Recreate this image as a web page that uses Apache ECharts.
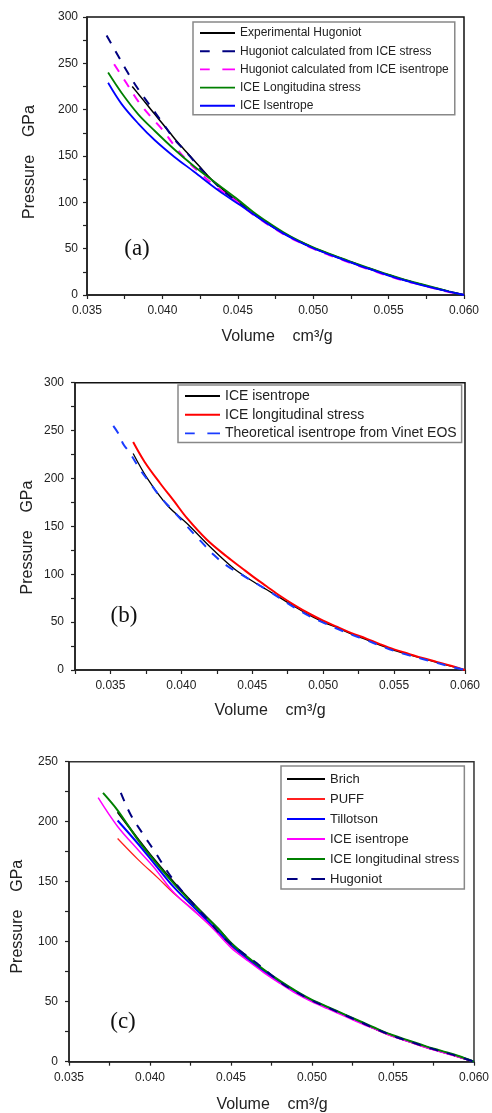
<!DOCTYPE html>
<html><head><meta charset="utf-8">
<script src="https://cdn.jsdelivr.net/npm/echarts@6/dist/echarts.min.js"></script>
<style>html,body{margin:0;padding:0;background:#fff;width:492px;height:1113px;overflow:hidden}
.p{position:absolute;left:0;width:492px}</style></head><body>
<div id="a" class="p" style="top:0;height:350px"></div>
<div id="b" class="p" style="top:350px;height:380px"></div>
<div id="c" class="p" style="top:730px;height:383px"></div>
<script>
// ---- Panel (a) data [volume cm3/g, pressure GPa]
const aExpHugoniot = [[0.0380,225],[0.0385,215],[0.0390,205],[0.0395,195],[0.0400,185],[0.0405,175],[0.0410,165],[0.0415,156],[0.0420,147],[0.0425,138],[0.0430,129],[0.0435,121],[0.0440,114],[0.0445,107],[0.0450,101],[0.0460,88],[0.0470,77],[0.0480,67],[0.0490,58.5],[0.0500,51],[0.0510,44.5],[0.0520,38.5],[0.0530,32.5],[0.0540,27],[0.0550,21.5],[0.0560,16.5],[0.0570,12],[0.0580,7.8],[0.0590,3.8],[0.0600,0]];
const aHugStress = [[0.0363,280],[0.0371,257],[0.0377,240],[0.0384,222],[0.0392,204],[0.0400,186],[0.0408,168],[0.0417,152],[0.0426,135],[0.0431,127],[0.0442,110],[0.0452,98],[0.0460,88],[0.0470,77],[0.0480,67],[0.0490,58.5],[0.0500,51],[0.0510,44.5],[0.0520,38.5],[0.0530,32.5],[0.0540,27],[0.0550,21.5],[0.0560,16.5],[0.0570,12],[0.0580,7.8],[0.0590,3.8],[0.0600,0]];
const aHugIsentrope = [[0.0368,249],[0.0376,229],[0.0384,209],[0.0392,193],[0.0400,178.5],[0.0408,161],[0.0417,144],[0.0426,130],[0.0435,117.5],[0.0445,106],[0.0450,100],[0.0460,87],[0.0470,76],[0.0480,66],[0.0490,57.5],[0.0500,50],[0.0510,43.5],[0.0520,37.5],[0.0530,31.5],[0.0540,26],[0.0550,20.5],[0.0560,15.5],[0.0570,11.5],[0.0580,7.2],[0.0590,3.3],[0.0600,0]];
const aIceLong = [[0.0364,240],[0.0373,218],[0.0384,195],[0.0395,177],[0.0408,157],[0.0421,139],[0.0437,119],[0.0450,103],[0.0460,90],[0.0470,78.5],[0.0480,68],[0.0490,59],[0.0500,51.5],[0.0510,45],[0.0520,39],[0.0530,33],[0.0540,27.5],[0.0550,22],[0.0560,17],[0.0570,12.5],[0.0580,8.2],[0.0590,4],[0.0600,0]];
const aIceIsen = [[0.0364,229],[0.0373,206],[0.0384,185],[0.0395,167],[0.0408,149],[0.0421,133],[0.0437,113],[0.0452,96.5],[0.0460,87.5],[0.0470,76.5],[0.0480,66.5],[0.0490,58],[0.0500,50.5],[0.0510,44],[0.0520,38],[0.0530,32],[0.0540,26.5],[0.0550,21],[0.0560,16],[0.0570,11.5],[0.0580,7.5],[0.0590,3.6],[0.0600,0]];

// ---- Panel (b) data
const bIceIsen = [[0.0366,226],[0.0376,200],[0.0390,172],[0.0404,153],[0.0420,129],[0.0437,106],[0.0450,93],[0.0460,84],[0.0470,75],[0.0480,66],[0.0490,57.5],[0.0500,50],[0.0510,44],[0.0520,37.5],[0.0530,32],[0.0540,26],[0.0550,20.5],[0.0560,16],[0.0570,12],[0.0580,8],[0.0590,4],[0.0600,0]];
const bIceLong = [[0.0366,238],[0.0374,217.5],[0.0385,195],[0.0395,176],[0.0404,158.5],[0.0418,136],[0.0432,118.5],[0.0443,106],[0.0451,97],[0.0460,87.5],[0.0470,77],[0.0480,67.5],[0.0490,59],[0.0500,51.5],[0.0510,45],[0.0520,38.5],[0.0530,33],[0.0540,27],[0.0550,21.5],[0.0560,17],[0.0570,12.5],[0.0580,8.5],[0.0590,4.5],[0.0600,0]];
const bVinet = [[0.0352,255],[0.0356,246],[0.0359,236],[0.0364,226],[0.0371,209],[0.0378,195],[0.0385,181],[0.0395,165],[0.0404,150],[0.0414,134],[0.0423,120],[0.0432,109],[0.0442,100],[0.0452,91],[0.0460,84],[0.0470,74.5],[0.0480,65],[0.0490,56.5],[0.0500,49.5],[0.0510,43],[0.0520,37],[0.0530,31.5],[0.0540,25.5],[0.0550,20],[0.0560,15.5],[0.0570,11.5],[0.0580,7.5],[0.0590,3.5],[0.0600,0]];

// ---- Panel (c) data
const cBrich = [[0.0380,208],[0.0393,185],[0.0403,168],[0.0415,149],[0.0428,130],[0.0442,111],[0.0450,99],[0.0460,87],[0.0470,76.5],[0.0480,67],[0.0490,58.5],[0.0500,51],[0.0510,45],[0.0520,39],[0.0530,33],[0.0540,27],[0.0550,21.5],[0.0560,17],[0.0570,12.5],[0.0580,8.5],[0.0590,4.5],[0.0600,0]];
const cPuff = [[0.0380,186],[0.0393,168],[0.0405,153],[0.0415,140],[0.0428,125],[0.0442,107],[0.0450,96.5],[0.0460,85.5],[0.0470,75],[0.0480,66],[0.0490,57.5],[0.0500,50.5],[0.0510,44.5],[0.0520,38.5],[0.0530,32.5],[0.0540,26.5],[0.0550,21],[0.0560,16.5],[0.0570,12],[0.0580,8],[0.0590,4],[0.0600,0]];
const cTillotson = [[0.0380,201],[0.0393,181],[0.0403,164.5],[0.0415,145],[0.0428,127.5],[0.0442,108.5],[0.0450,97.5],[0.0460,86],[0.0470,76],[0.0480,66.5],[0.0490,58],[0.0500,51],[0.0510,45],[0.0520,39],[0.0530,33],[0.0540,27],[0.0550,21.5],[0.0560,17],[0.0570,12.5],[0.0580,8.5],[0.0590,4.5],[0.0600,0]];
const cIceIsen = [[0.0368,220],[0.0380,196],[0.0393,176],[0.0403,161],[0.0415,140.5],[0.0436,115],[0.0450,95],[0.0460,84.5],[0.0470,74.5],[0.0480,65.5],[0.0490,57],[0.0500,50],[0.0510,44],[0.0520,38],[0.0530,32],[0.0540,26.5],[0.0550,21],[0.0560,16.5],[0.0570,12],[0.0580,8],[0.0590,4],[0.0600,0]];
const cIceLong = [[0.0371,224],[0.0380,209.5],[0.0393,184],[0.0403,167],[0.0415,148],[0.0428,129.5],[0.0442,111],[0.0450,99],[0.0460,87.5],[0.0470,77],[0.0480,67.5],[0.0490,59],[0.0500,51.5],[0.0510,45.5],[0.0520,39.5],[0.0530,33.5],[0.0540,27.5],[0.0550,22],[0.0560,17.5],[0.0570,13],[0.0580,9],[0.0590,5],[0.0600,0]];
const cHugoniot = [[0.0382,224],[0.0388,206],[0.0396,189],[0.0403,175],[0.0410,160],[0.0418,145],[0.0427,131],[0.0436,118],[0.0445,104],[0.0456,92],[0.0466,82],[0.0475,72],[0.0484,63],[0.0500,51],[0.0510,45],[0.0520,39],[0.0530,33],[0.0540,27],[0.0550,21.5],[0.0560,17],[0.0570,12.5],[0.0580,8.5],[0.0590,4.5],[0.0600,0]];

const SANS = 'Liberation Sans, Arial, sans-serif';
const SERIF = 'Liberation Serif, Times New Roman, serif';
const AX = '#222';
const ICON_SOLID = 'path://M0,0H36V2H0Z';
const ICON_DASH = 'path://M0,0H10V2H0Z M23,0H36V2H23Z';

function xAxisCfg(min) {
  return {
    type: 'value', min: min, max: 0.060, interval: 0.0025,
    axisLine: { lineStyle: { color: AX, width: 1.5 } },
    axisTick: { show: true, length: 4, inside: false, lineStyle: { color: AX, width: 1.2 } },
    axisLabel: { margin: 10, fontSize: 12, color: AX, fontFamily: SANS,
      formatter: function (v) { const k = Math.round(v / 0.0025); return k % 2 === 0 ? (k * 0.0025).toFixed(3) : ''; } },
    splitLine: { show: false }
  };
}
function yAxisCfg(max, margin) {
  return {
    type: 'value', min: 0, max: max, interval: 50,
    axisLine: { show: true, lineStyle: { color: AX, width: 1.5 } },
    axisTick: { show: true, length: 4, inside: false, lineStyle: { color: AX, width: 1.2 } },
    minorTick: { show: true, splitNumber: 2, length: 4, lineStyle: { color: AX, width: 1.2 } },
    axisLabel: { margin: margin, fontSize: 12, color: AX, fontFamily: SANS },
    splitLine: { show: false }
  };
}
function line(name, data, color, width, dash) {
  return { type: 'line', name: name, data: data, symbol: 'none', showSymbol: false,
    smooth: 0.35,
    lineStyle: { color: color, width: width, type: dash ? [9, 9] : 'solid' },
    itemStyle: { color: color }, animation: false, z: 3 };
}
function legendData(series) {
  return series.map(function (s) { return { name: s.name, icon: s.lineStyle.type === 'solid' ? ICON_SOLID : ICON_DASH }; });
}
function texts(yn, xn, tag) {
  return [
    { type: 'text', x: yn[0], y: yn[1], rotation: Math.PI / 2,
      style: { text: 'Pressure    GPa', fontSize: 16, fill: AX, fontFamily: SANS, align: 'center', verticalAlign: 'middle' } },
    { type: 'text', x: xn[0], y: xn[1],
      style: { text: 'Volume    cm\u00B3/g', fontSize: 16, fill: AX, fontFamily: SANS, align: 'center', verticalAlign: 'middle' } },
    { type: 'text', x: tag[0], y: tag[1],
      style: { text: tag[2], fontSize: 23, fill: '#111', fontFamily: SERIF, align: 'center', verticalAlign: 'middle' } }
  ];
}
function legendCfg(series, left, top, fs, gap, iw, pad) {
  return { data: legendData(series), orient: 'vertical', left: left, top: top, itemWidth: iw, itemHeight: 14, itemGap: gap,
    padding: pad, borderColor: '#888', borderWidth: 1.5, backgroundColor: '#fff', borderRadius: 0,
    selectedMode: false, symbolKeepAspect: true,
    textStyle: { fontSize: fs, color: AX, fontFamily: SANS, lineHeight: 14 } };
}

// Panel (a)
const sa = [
  line('Experimental Hugoniot', aExpHugoniot, '#000000', 1.5, false),
  line('Hugoniot calculated from ICE stress', aHugStress, '#000080', 2, true),
  line('Hugoniot calculated from ICE isentrope', aHugIsentrope, '#ff00ff', 2, true),
  line('ICE Longitudina stress', aIceLong, '#008000', 1.8, false),
  line('ICE Isentrope', aIceIsen, '#0000ff', 1.8, false)
];
echarts.init(document.getElementById('a')).setOption({
  animation: false,
  grid: { left: 87, top: 17, width: 377, height: 278, show: true, borderColor: '#111', borderWidth: 1.5, backgroundColor: 'transparent' },
  xAxis: xAxisCfg(0.035), yAxis: yAxisCfg(300, 9),
  legend: legendCfg(sa, 193, 22, 12, 4.2, 35, [4, 6, 2, 7]),
  series: sa,
  graphic: texts([30, 162], [277, 337], [137, 249, '(a)'])
});

// Panel (b)
const sb = [
  line('ICE isentrope', bIceIsen, '#000000', 1.3, false),
  line('ICE longitudinal stress', bIceLong, '#ff0000', 2, false),
  line('Theoretical isentrope from Vinet EOS', bVinet, '#1a3cff', 2, true)
];
echarts.init(document.getElementById('b')).setOption({
  animation: false,
  grid: { left: 75, top: 32.7, width: 390, height: 287.3, show: true, borderColor: '#111', borderWidth: 1.5, backgroundColor: 'transparent' },
  xAxis: xAxisCfg(0.0325), yAxis: yAxisCfg(300, 11),
  legend: legendCfg(sb, 178, 35, 14, 4.7, 35, [4, 5, 2, 7]),
  series: sb,
  graphic: texts([28, 187.5], [270, 361], [124, 266, '(b)'])
});

// Panel (c)
const sc = [
  line('Brich', cBrich, '#000000', 1.8, false),
  line('PUFF', cPuff, '#ff2020', 1.3, false),
  line('Tillotson', cTillotson, '#0000ff', 2, false),
  line('ICE isentrope', cIceIsen, '#ff00ff', 1.5, false),
  line('ICE longitudinal stress', cIceLong, '#008000', 2, false),
  line('Hugoniot', cHugoniot, '#000080', 2, true)
];
echarts.init(document.getElementById('c')).setOption({
  animation: false,
  grid: { left: 69, top: 31.7, width: 405, height: 300, show: true, borderColor: '#333', borderWidth: 1.5, backgroundColor: 'transparent' },
  xAxis: xAxisCfg(0.035), yAxis: yAxisCfg(250, 11),
  legend: legendCfg(sc, 281, 36, 13, 6, 38, [6, 5, 3, 6]),
  series: sc,
  graphic: texts([18, 186.7], [272, 375], [123, 292, '(c)'])
});
</script></body></html>
